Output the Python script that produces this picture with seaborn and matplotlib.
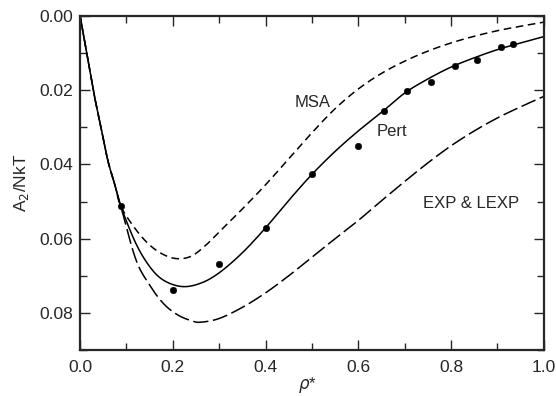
import numpy as np
import pandas as pd
import matplotlib
matplotlib.use("Agg")
import matplotlib.pyplot as plt
import seaborn as sns
from matplotlib.ticker import MultipleLocator

# curves (density rho*, A2/NkT)
msa_x = [0.0, 0.015, 0.03, 0.045, 0.06, 0.075, 0.088, 0.12, 0.15, 0.18, 0.21, 0.24, 0.27,
         0.30, 0.35, 0.40, 0.45, 0.50, 0.55, 0.60, 0.65, 0.70, 0.75, 0.80, 0.85, 0.90,
         0.95, 1.0]
msa_y = [0.0, 0.0105, 0.021, 0.030, 0.039, 0.0455, 0.0513, 0.0575, 0.0617, 0.0643, 0.0654,
         0.0647, 0.0619, 0.0582, 0.0520, 0.0455, 0.0385, 0.0315, 0.0250, 0.0197, 0.0155,
         0.0122, 0.0095, 0.0073, 0.0055, 0.0040, 0.0028, 0.0017]

pert_x = [0.0, 0.015, 0.03, 0.045, 0.06, 0.075, 0.088, 0.12, 0.15, 0.18, 0.22, 0.26, 0.30,
          0.35, 0.40, 0.45, 0.50, 0.55, 0.60, 0.65, 0.70, 0.75, 0.80, 0.85, 0.90, 0.95, 1.0]
pert_y = [0.0, 0.0105, 0.021, 0.030, 0.039, 0.0455, 0.0513, 0.0612, 0.0675, 0.0712, 0.0729,
          0.0720, 0.0692, 0.0638, 0.0571, 0.0497, 0.0427, 0.0365, 0.0310, 0.0260, 0.0208,
          0.0170, 0.0138, 0.0113, 0.0091, 0.0073, 0.0056]

exp_x = [0.0, 0.015, 0.03, 0.045, 0.06, 0.075, 0.088, 0.12, 0.15, 0.18, 0.21, 0.24, 0.26,
         0.30, 0.35, 0.40, 0.45, 0.50, 0.55, 0.60, 0.65, 0.70, 0.75, 0.80, 0.85, 0.90,
         0.95, 1.0]
exp_y = [0.0, 0.0105, 0.021, 0.030, 0.039, 0.0455, 0.0513, 0.0655, 0.0725, 0.0775, 0.0805,
         0.0821, 0.0825, 0.0815, 0.0785, 0.0746, 0.0700, 0.0650, 0.0600, 0.0551, 0.0498,
         0.0446, 0.0396, 0.0350, 0.0310, 0.0275, 0.0245, 0.0217]

# simulation points
sim_x = [0.088, 0.20, 0.30, 0.40, 0.50, 0.60, 0.655, 0.705, 0.756, 0.808, 0.856, 0.907, 0.934]
sim_y = [0.0513, 0.0737, 0.0667, 0.0571, 0.0427, 0.0351, 0.0255, 0.0203, 0.0177, 0.0134,
         0.0118, 0.0085, 0.0076]

curves = pd.concat([
    pd.DataFrame({"rho": msa_x, "A2": msa_y, "theory": "MSA"}),
    pd.DataFrame({"rho": pert_x, "A2": pert_y, "theory": "Pert"}),
    pd.DataFrame({"rho": exp_x, "A2": exp_y, "theory": "EXP"}),
])
sim = pd.DataFrame({"rho": sim_x, "A2": sim_y})


def catmull_rom(x, y, n=20):
    # smooth curve through the read-off points
    x = np.asarray(x, float)
    y = np.asarray(y, float)
    px = np.concatenate([[2 * x[0] - x[1]], x, [2 * x[-1] - x[-2]]])
    py = np.concatenate([[2 * y[0] - y[1]], y, [2 * y[-1] - y[-2]]])
    t = np.linspace(0, 1, n, endpoint=False)
    xs, ys = [], []
    for i in range(1, len(px) - 2):
        for p, out in ((px, xs), (py, ys)):
            p0, p1, p2, p3 = p[i - 1], p[i], p[i + 1], p[i + 2]
            out.append(0.5 * (2 * p1 + (p2 - p0) * t + (2 * p0 - 5 * p1 + 4 * p2 - p3) * t ** 2
                              + (3 * p1 - p0 - 3 * p2 + p3) * t ** 3))
    xs.append([x[-1]])
    ys.append([y[-1]])
    return np.concatenate(xs), np.concatenate(ys)


sns.set_style("ticks")
plt.rcParams["font.family"] = ["Liberation Sans", "DejaVu Sans"]

fig = plt.figure(figsize=(5.56, 3.96), dpi=100)
ax = fig.add_axes([0.144, 0.116, 0.834, 0.844])

styles = {"MSA": (5, 3), "Pert": None, "EXP": (10, 3)}
for name, grp in curves.groupby("theory", sort=False):
    xs, ys = catmull_rom(grp["rho"], grp["A2"])
    sns.lineplot(x=xs, y=ys, ax=ax, color="black", lw=1.1, sort=False)
    if styles[name]:
        ax.lines[-1].set_dashes(styles[name])

sns.scatterplot(data=sim, x="rho", y="A2", ax=ax, color="black", s=22, edgecolor="black",
                zorder=5)

ax.text(0.502, 0.0233, "MSA", ha="center", va="center", fontsize=12)
ax.text(0.672, 0.0311, "Pert", ha="center", va="center", fontsize=12)
ax.text(0.844, 0.0504, "EXP & LEXP", ha="center", va="center", fontsize=12)

ax.set_xlim(0, 1.0)
ax.set_ylim(0.09, 0.0)
ax.xaxis.set_minor_locator(MultipleLocator(0.1))
ax.yaxis.set_minor_locator(MultipleLocator(0.01))
ax.set_xticks([0.0, 0.2, 0.4, 0.6, 0.8, 1.0])
ax.set_xticklabels(["0.0", "0.2", "0.4", "0.6", "0.8", "1.0"])
ax.set_yticks([0.0, 0.02, 0.04, 0.06, 0.08])
ax.set_yticklabels(["0.00", "0.02", "0.04", "0.06", "0.08"])
ax.tick_params(which="both", direction="in", top=True, right=True, labelsize=12.5,
               width=1.0)
ax.tick_params(axis="y", which="major", pad=5)
ax.tick_params(axis="x", which="major", pad=7)
ax.tick_params(which="major", length=7)
ax.tick_params(which="minor", length=5)
for sp in ax.spines.values():
    sp.set_linewidth(1.6)

ax.set_xlabel(r"$\rho$*", fontsize=12)
ax.xaxis.set_label_coords(0.49, -0.075)
ax.set_ylabel(r"A$_2$/NkT", fontsize=12.5)
ax.yaxis.set_label_coords(-0.105, 0.5)

fig.savefig("out.png", dpi=100)
